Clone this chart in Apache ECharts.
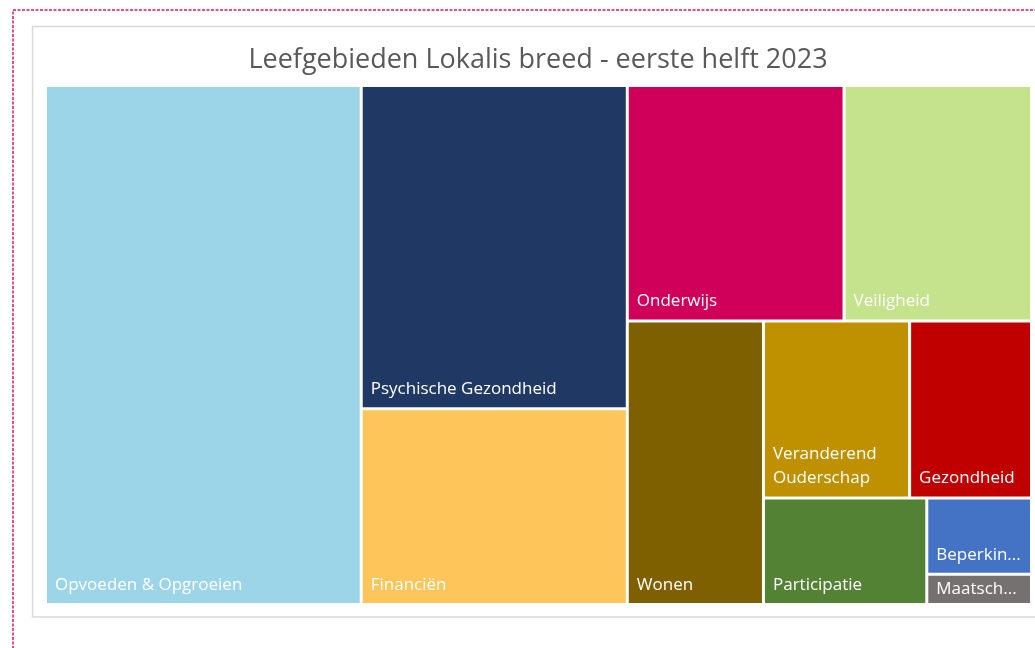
<!DOCTYPE html>
<html>
<head>
<meta charset="utf-8">
<script src="https://cdn.jsdelivr.net/npm/echarts@6/dist/echarts.min.js"></script>
<style>
html, body { margin: 0; padding: 0; background: #ffffff; }
#chart { width: 1035px; height: 648px; }
</style>
</head>
<body>
<div id="chart"></div>
<script>
// ---- data ----
const chartTitle = 'Leefgebieden Lokalis breed - eerste helft 2023';
const categories = [
  'Opvoeden & Opgroeien',
  'Psychische Gezondheid',
  'Financiën',
  'Onderwijs',
  'Veiligheid',
  'Wonen',
  'Veranderend Ouderschap',
  'Gezondheid',
  'Participatie',
  'Beperkingen',
  'Maatschappelijk'
];
const values = [32.04, 16.81, 10.19, 9.98, 8.63, 7.55, 5.06, 4.22, 3.40, 1.56, 0.62];
const palette = [
  '#9DD5E8', '#1F3864', '#FEC65A', '#D0005A', '#C5E28C', '#7F6000',
  '#BF9000', '#C00000', '#548235', '#4472C4', '#767171'
];
const wrapLabels = ['Veranderend Ouderschap'];
const centeredLabels = ['Maatschappelijk'];

const seriesData = categories.map(function (name, i) {
  const item = { name: name, value: values[i], itemStyle: { color: palette[i] } };
  if (wrapLabels.indexOf(name) >= 0) {
    item.label = { overflow: 'break' };
  }
  if (centeredLabels.indexOf(name) >= 0) {
    item.label = { position: 'insideLeft', padding: [0, 14, 0, 2] };
  }
  return item;
});

const chart = echarts.init(document.getElementById('chart'), null, { renderer: 'canvas' });
chart.setOption({
  animation: false,
  backgroundColor: '#ffffff',
  title: {
    text: chartTitle,
    left: 533,
    top: 42,
    textAlign: 'center',
    textStyle: {
      fontFamily: 'Open Sans',
      fontSize: 27,
      fontWeight: 'normal',
      color: '#595959'
    }
  },
  graphic: [
    {
      type: 'rect',
      silent: true,
      shape: { x: 13, y: 10, width: 1100, height: 700 },
      style: { fill: 'none', stroke: '#E4508C', lineWidth: 2, lineDash: [3, 1.5] }
    },
    {
      type: 'rect',
      silent: true,
      shape: { x: 32.5, y: 26.5, width: 1020, height: 590.5 },
      style: { fill: 'none', stroke: '#D9D9D9', lineWidth: 1.5 }
    }
  ],
  series: [{
    type: 'treemap',
    left: 47,
    top: 87,
    width: 983,
    height: 516,
    roam: false,
    nodeClick: false,
    sort: 'desc',
    squareRatio: 0.85,
    breadcrumb: { show: false },
    itemStyle: { gapWidth: 3, borderWidth: 0, borderColor: '#ffffff' },
    levels: [{ itemStyle: { gapWidth: 3, borderWidth: 0 } }],
    label: {
      show: true,
      position: 'insideBottomLeft',
      distance: 6,
      padding: [0, 8, 0, 2],
      color: '#ffffff',
      fontFamily: 'Open Sans',
      fontSize: 17,
      lineHeight: 24,
      overflow: 'truncate',
      ellipsis: '...'
    },
    emphasis: { disabled: true },
    data: seriesData
  }]
});
</script>
</body>
</html>
